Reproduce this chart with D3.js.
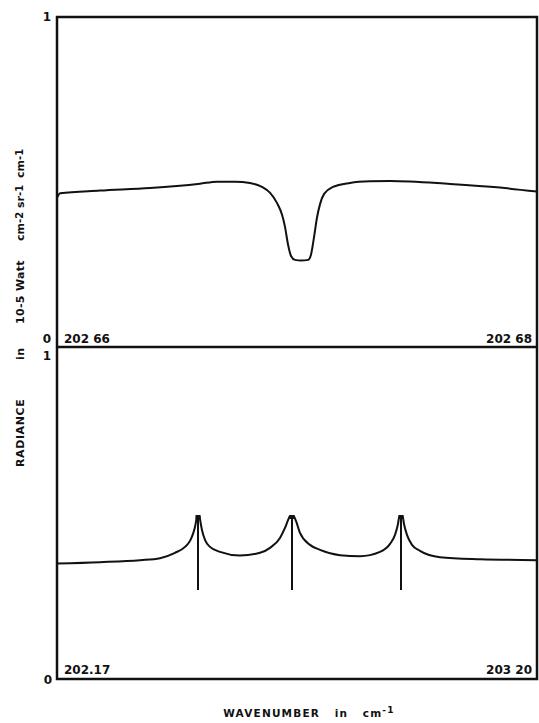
<!DOCTYPE html>
<style>
body { margin: 0; background: #fff; }
text { font-family: "DejaVu Sans", sans-serif; font-weight: bold; fill: #111; }
</style>
<svg width="539" height="723"></svg>
<script src="https://d3js.org/d3.v7.min.js"></script>
<script>

// upper panel: wavenumber range and trace
var topRange = [202.66, 202.68];
var topRangeLabels = ["202 66", "202 68"];
var topWavenumber = [202.66000, 202.66013, 202.66179, 202.66388, 202.66596, 202.66667, 202.66742, 202.66804,
                     202.66854, 202.66888, 202.66917, 202.66938, 202.66950, 202.66963, 202.66975, 202.66992,
                     202.67017, 202.67046, 202.67058, 202.67071, 202.67083, 202.67096, 202.67113, 202.67150,
                     202.67221, 202.67304, 202.67388, 202.67638, 202.67846, 202.68000];
var topRadiance = [0.452, 0.466, 0.474, 0.482, 0.495, 0.501, 0.501, 0.497,
                   0.485, 0.467, 0.436, 0.400, 0.364, 0.309, 0.276, 0.264,
                   0.262, 0.264, 0.279, 0.333, 0.391, 0.433, 0.464, 0.485,
                   0.497, 0.502, 0.503, 0.494, 0.483, 0.471];

// lower panel: wavenumber range and trace
var botRange = [202.17, 203.20];
var botRangeLabels = ["202.17", "203 20"];
var botWavenumber = [202.1700, 202.2623, 202.3481, 202.3910, 202.4232, 202.4447, 202.4554, 202.4618,
                     202.4661, 202.4693, 202.4704, 202.4758, 202.4768, 202.4811, 202.4876, 202.4983,
                     202.5198, 202.5627, 202.6056, 202.6271, 202.6485, 202.6592, 202.6668, 202.6700,
                     202.6775, 202.6828, 202.6914, 202.7129, 202.7344, 202.7773, 202.8202, 202.8631,
                     202.8846, 202.8953, 202.9017, 202.9049, 202.9114, 202.9146, 202.9210, 202.9318,
                     202.9489, 202.9918, 203.0777, 203.2000];
var botRadiance = [0.348, 0.352, 0.358, 0.364, 0.380, 0.398, 0.416, 0.437,
                   0.458, 0.482, 0.491, 0.491, 0.482, 0.449, 0.419, 0.398,
                   0.383, 0.372, 0.380, 0.395, 0.425, 0.455, 0.482, 0.491,
                   0.491, 0.476, 0.440, 0.404, 0.389, 0.373, 0.370, 0.383,
                   0.407, 0.434, 0.467, 0.491, 0.491, 0.467, 0.434, 0.404,
                   0.386, 0.367, 0.361, 0.358];

// line markers under the emission peaks
var peakWavenumber = [202.4726, 202.6743, 202.9082];
var peakTop = 0.491;
var peakBottom = 0.268;

var svg = d3.select("svg");

var frame = {left: 57, right: 537, top: 17, mid: 347, bottom: 679};

var xTop = d3.scaleLinear().domain(topRange).range([frame.left, frame.right]);
var xBot = d3.scaleLinear().domain(botRange).range([frame.left, frame.right]);
var yTop = d3.scaleLinear().domain([0, 1]).range([frame.mid, frame.top]);
var yBot = d3.scaleLinear().domain([0, 1]).range([frame.bottom, frame.mid]);

function trace(xs, ys) {
  return xs.map(function(d, i) { return [d, ys[i]]; });
}

var lineTop = d3.line()
    .x(function(d) { return xTop(d[0]); })
    .y(function(d) { return yTop(d[1]); })
    .curve(d3.curveMonotoneX);

var lineBot = d3.line()
    .x(function(d) { return xBot(d[0]); })
    .y(function(d) { return yBot(d[1]); })
    .curve(d3.curveMonotoneX);

// frame
svg.append("path")
    .attr("d", "M" + frame.left + "," + frame.bottom + "V" + frame.top + "H" + frame.right + "V" + frame.bottom + "Z")
    .attr("fill", "none")
    .attr("stroke", "#111")
    .attr("stroke-width", 2.5);

svg.append("line")
    .attr("x1", frame.left).attr("x2", frame.right)
    .attr("y1", yTop(0)).attr("y2", yTop(0))
    .attr("stroke", "#111")
    .attr("stroke-width", 2.5);

// traces
svg.append("path")
    .datum(trace(topWavenumber, topRadiance))
    .attr("d", lineTop)
    .attr("fill", "none")
    .attr("stroke", "#111")
    .attr("stroke-width", 2)
    .attr("stroke-linejoin", "round");

svg.append("path")
    .datum(trace(botWavenumber, botRadiance))
    .attr("d", lineBot)
    .attr("fill", "none")
    .attr("stroke", "#111")
    .attr("stroke-width", 2)
    .attr("stroke-linejoin", "round");

svg.append("g")
  .selectAll("line")
  .data(peakWavenumber)
  .enter().append("line")
    .attr("x1", function(d) { return xBot(d); })
    .attr("x2", function(d) { return xBot(d); })
    .attr("y1", yBot(peakTop))
    .attr("y2", yBot(peakBottom))
    .attr("stroke", "#111")
    .attr("stroke-width", 2);

// little blobs at the peak tops
svg.append("g")
  .selectAll("rect")
  .data(peakWavenumber)
  .enter().append("rect")
    .attr("x", function(d) { return xBot(d) - 2.5; })
    .attr("y", yBot(peakTop) - 1)
    .attr("width", 5)
    .attr("height", 4)
    .attr("fill", "#111");

// y tick labels
svg.append("text").attr("x", 47).attr("y", yTop(1)).attr("dy", "0.35em")
    .attr("text-anchor", "middle").attr("font-size", 12).text("1");
svg.append("text").attr("x", 47).attr("y", yTop(0) - 8).attr("dy", "0.35em")
    .attr("text-anchor", "middle").attr("font-size", 12).text("0");
svg.append("text").attr("x", 47).attr("y", yBot(1) + 9).attr("dy", "0.35em")
    .attr("text-anchor", "middle").attr("font-size", 12).text("1");
svg.append("text").attr("x", 48).attr("y", yBot(0) + 1).attr("dy", "0.35em")
    .attr("text-anchor", "middle").attr("font-size", 12).text("0");

// wavenumber range labels inside each panel
svg.append("text").attr("x", xTop(topRange[0]) + 7).attr("y", yTop(0) - 4)
    .attr("font-size", 12).text(topRangeLabels[0]);
svg.append("text").attr("x", xTop(topRange[1]) - 5).attr("y", yTop(0) - 4)
    .attr("text-anchor", "end").attr("font-size", 12).text(topRangeLabels[1]);
svg.append("text").attr("x", xBot(botRange[0]) + 7).attr("y", yBot(0) - 5)
    .attr("font-size", 12).text(botRangeLabels[0]);
svg.append("text").attr("x", xBot(botRange[1]) - 5).attr("y", yBot(0) - 5)
    .attr("text-anchor", "end").attr("font-size", 12).text(botRangeLabels[1]);

// x axis title
var xt = svg.append("text")
    .attr("x", 309)
    .attr("y", 717)
    .attr("text-anchor", "middle")
    .attr("font-size", 10.5)
    .attr("letter-spacing", 1.2)
    .attr("xml:space", "preserve");
xt.append("tspan").text("WAVENUMBER   in   cm");
xt.append("tspan").attr("font-size", 9).attr("dy", -4).text("-1");

// y axis title, rotated
var yl = svg.append("g").attr("transform", "translate(24,0) rotate(-90)");
var ywords = [
  {t: "RADIANCE", y: 467, ls: 0.6},
  {t: "in", y: 360, ls: 0.6},
  {t: "10-5", y: 324, ls: 0.3},
  {t: "Watt", y: 291, ls: 0.3},
  {t: "cm", s: "-2", y: 241, ls: 0},
  {t: "sr", s: "-1", y: 208, ls: 0},
  {t: "cm", s: "-1", y: 178, ls: 0}
];
ywords.forEach(function(w) {
  var t = yl.append("text")
      .attr("x", -w.y)
      .attr("y", 0)
      .attr("font-size", 11)
      .attr("letter-spacing", w.ls)
      .text(w.t);
  if (w.s) t.append("tspan").attr("dy", -1.5).attr("font-size", 10).text(w.s);
});

</script>
